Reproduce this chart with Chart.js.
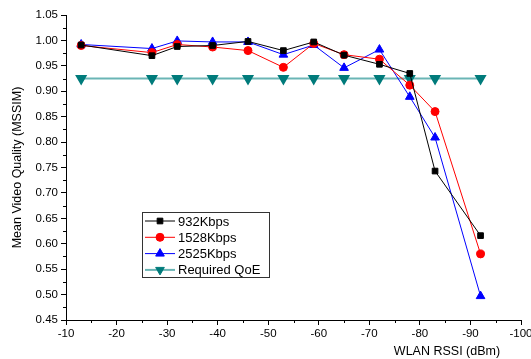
<!DOCTYPE html>
<html lang="en">
<head>
  <meta charset="UTF-8">
  <title>Mean Video Quality vs WLAN RSSI</title>
  <style>
    body, html {
      margin: 0;
      padding: 0;
      background-color: #ffffff;
    }

    #chart-container {
      width: 531px;
      height: 359px;
    }
  </style>
</head>
<body>
  <div id="chart-container">
    <canvas id="mssimChart" width="531" height="359"></canvas>
  </div>

  <script src="https://cdn.jsdelivr.net/npm/chart.js"></script>
  <script>
    // values
    const rssi = [-13, -27, -32, -39, -46, -53, -59, -65, -72, -78, -83, -92];
    const kbps932 = [0.991, 0.970, 0.988, 0.990, 0.998, 0.980, 0.997, 0.971, 0.953, 0.935, 0.743, 0.616];
    const kbps1528 = [0.990, 0.976, 0.992, 0.987, 0.980, 0.947, 0.994, 0.972, 0.963, 0.912, 0.860, 0.580];
    const kbps2525 = [0.992, 0.984, 0.999, 0.997, 0.997, 0.972, 0.991, 0.946, 0.982, 0.889, 0.809, 0.497];
    const requiredQoE = [0.925, 0.925, 0.925, 0.925, 0.925, 0.925, 0.925, 0.925, 0.925, 0.925, 0.925, 0.925];
    const xMinorTicks = [-15, -25, -35, -45, -55, -65, -75, -85, -95];
    const yMinorTicks = [0.475, 0.525, 0.575, 0.625, 0.675, 0.725, 0.775, 0.825, 0.875, 0.925, 0.975, 1.025];

    const FONT = 'Arial, "Liberation Sans", sans-serif';
    const toPoints = vals => vals.map((v, i) => ({ x: rssi[i], y: v }));

    // small outward minor ticks, a boxed legend and the x title
    const extras = {
      id: 'extras',
      afterDraw(chart) {
        const ctx = chart.ctx;
        const xs = chart.scales.x, ys = chart.scales.y;
        const area = chart.chartArea;
        ctx.save();
        ctx.strokeStyle = '#000';
        ctx.lineWidth = 1;
        ctx.beginPath();
        xMinorTicks.forEach(v => {
          const px = Math.round(xs.getPixelForValue(v)) + 0.5;
          ctx.moveTo(px, area.bottom);
          ctx.lineTo(px, area.bottom + 3);
        });
        yMinorTicks.forEach(v => {
          const py = Math.round(ys.getPixelForValue(v)) + 0.5;
          ctx.moveTo(area.left - 3, py);
          ctx.lineTo(area.left, py);
        });
        ctx.stroke();

        // x axis title, sitting under the right part of the axis
        ctx.fillStyle = '#000';
        ctx.font = '12.5px ' + FONT;
        ctx.textAlign = 'center';
        ctx.textBaseline = 'middle';
        ctx.fillText('WLAN RSSI (dBm)', 447, 352);

        // legend box (text runs past the right edge like the original)
        const bx = 142.5, by = 212.5, bw = 127, bh = 65;
        ctx.font = '13px ' + FONT;
        ctx.textAlign = 'left';
        chart.data.datasets.forEach((ds, i) => {
          const y = 221 + i * 16.3;
          ctx.strokeStyle = ds.borderColor;
          ctx.lineWidth = ds.borderWidth;
          ctx.beginPath();
          ctx.moveTo(145, y);
          ctx.lineTo(175, y);
          ctx.stroke();
          ctx.fillStyle = ds.pointBackgroundColor;
          ctx.strokeStyle = ds.pointBackgroundColor;
          ctx.lineWidth = 1;
          Chart.helpers.drawPoint(ctx, {
            pointStyle: ds.pointStyle,
            rotation: ds.pointRotation || 0,
            radius: ds.pointRadius,
            borderWidth: 1
          }, 160, y);
          ctx.fillStyle = '#000';
          ctx.fillText(ds.label, 178, y + 1);
        });
        ctx.fillStyle = '#fff';
        ctx.fillRect(bx + bw + 0.5, by - 1, 6, bh + 2);
        ctx.strokeStyle = '#333';
        ctx.lineWidth = 1;
        ctx.strokeRect(bx, by, bw, bh);
        ctx.restore();
      }
    };

    const createChart = () => {
      const ctx = document.getElementById('mssimChart').getContext('2d');
      new Chart(ctx, {
        type: 'line',
        data: {
          datasets: [
            {
              label: '932Kbps',
              data: toPoints(kbps932),
              borderColor: '#000000',
              pointBackgroundColor: '#000000',
              pointBorderColor: '#000000',
              pointStyle: 'rect',
              pointRadius: 4,
              borderWidth: 1
            },
            {
              label: '1528Kbps',
              data: toPoints(kbps1528),
              borderColor: '#ff0000',
              pointBackgroundColor: '#ff0000',
              pointBorderColor: '#ff0000',
              pointStyle: 'circle',
              pointRadius: 4,
              borderWidth: 1
            },
            {
              label: '2525Kbps',
              data: toPoints(kbps2525),
              borderColor: '#0000ff',
              pointBackgroundColor: '#0000ff',
              pointBorderColor: '#0000ff',
              pointStyle: 'triangle',
              pointRadius: 5,
              borderWidth: 1
            },
            {
              label: 'Required QoE',
              data: toPoints(requiredQoE),
              borderColor: '#6ab5b5',
              pointBackgroundColor: '#007b7b',
              pointBorderColor: '#007b7b',
              pointStyle: 'triangle',
              pointRotation: 180,
              pointRadius: 5,
              borderWidth: 2
            }
          ]
        },
        options: {
          responsive: false,
          animation: false,
          layout: {
            padding: { top: 15, right: 0, left: 0, bottom: 0 }
          },
          elements: {
            line: { tension: 0 }
          },
          scales: {
            x: {
              type: 'linear',
              min: -100,
              max: -10,
              reverse: true,
              afterFit: s => { s.height = 39; s.paddingRight = 10; },
              border: { display: true, color: '#000', width: 1 },
              grid: {
                drawOnChartArea: false,
                color: '#000',
                tickLength: 5
              },
              ticks: {
                stepSize: 10,
                color: '#000',
                padding: 2,
                font: { family: FONT, size: 11.5 },
                maxRotation: 0
              }
            },
            y: {
              min: 0.45,
              max: 1.05,
              afterFit: s => { s.width = 66; },
              border: { display: true, color: '#000', width: 1 },
              grid: {
                drawOnChartArea: false,
                color: '#000',
                tickLength: 5
              },
              ticks: {
                stepSize: 0.05,
                color: '#000',
                padding: 3,
                font: { family: FONT, size: 11.5 },
                callback: v => v.toFixed(2)
              },
              title: {
                display: true,
                text: 'Mean Video Quality (MSSIM)',
                color: '#000',
                font: { family: FONT, size: 12.5 },
                padding: { top: 10, bottom: 0 }
              }
            }
          },
          plugins: {
            legend: { display: false },
            tooltip: { enabled: false }
          }
        },
        plugins: [extras]
      });
    };

    createChart();
  </script>
</body>
</html>
